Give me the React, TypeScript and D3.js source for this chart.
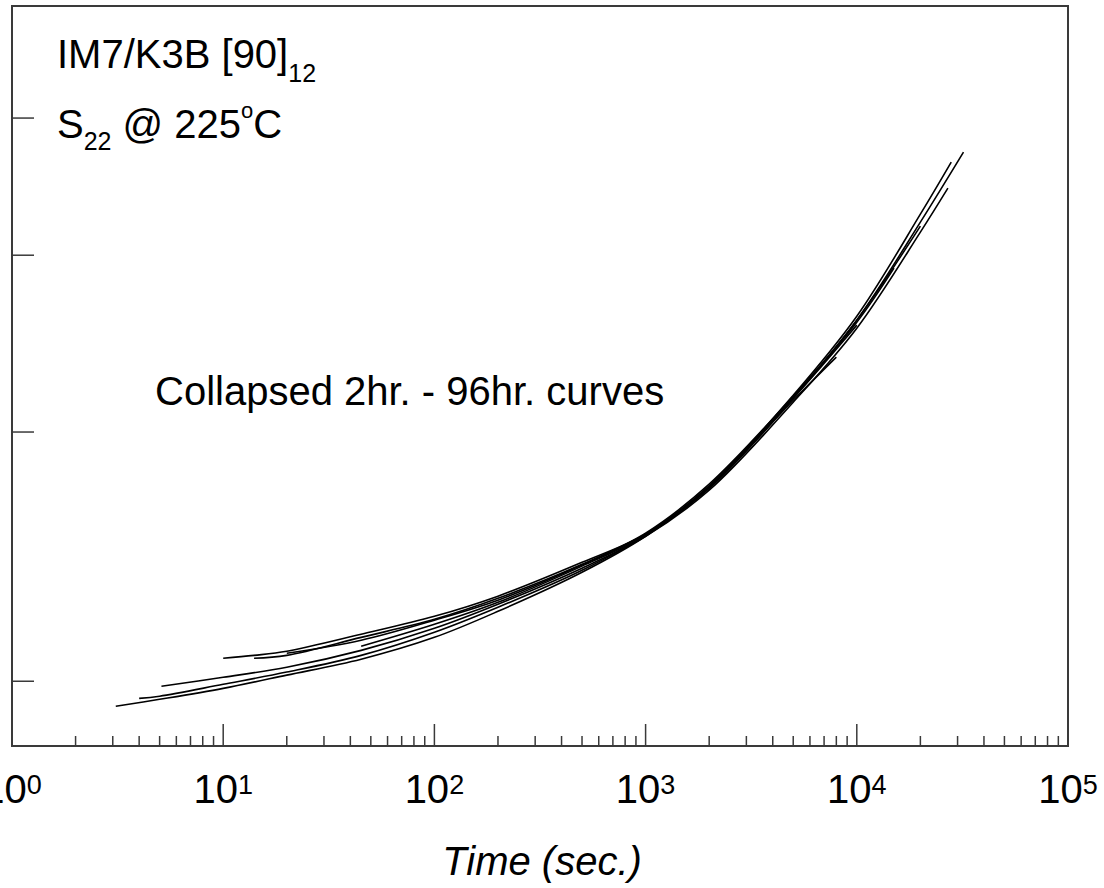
import React from "react";
import * as d3 from "d3";

// ---- Data ----
const curve1Time = [3.1, 5, 10, 20, 45, 100, 200, 500, 1000, 2000, 5000, 10000, 20000, 32000];
const curve1Value = [1.920, 1.942, 1.977, 2.020, 2.073, 2.148, 2.241, 2.388, 2.532, 2.738, 3.170, 3.599, 4.221, 4.730];

const curve2Time = [4, 5, 10, 20, 45, 100, 200, 500, 1000, 2000, 5000, 10000, 20000, 28000];
const curve2Value = [1.945, 1.952, 1.990, 2.030, 2.086, 2.166, 2.256, 2.396, 2.536, 2.747, 3.185, 3.622, 4.276, 4.654];

const curve3Time = [5.1, 10, 20, 45, 100, 200, 500, 1000, 2000, 5000, 10000, 20000, 27000];
const curve3Value = [1.984, 2.013, 2.046, 2.103, 2.180, 2.267, 2.404, 2.532, 2.729, 3.149, 3.552, 4.153, 4.461];

const curve4Time = [10, 14, 20, 45, 100, 200, 500, 1000, 2000, 5000, 8000];
const curve4Value = [2.076, 2.086, 2.100, 2.159, 2.223, 2.297, 2.427, 2.541, 2.738, 3.159, 3.389];

const curve5Time = [14, 20, 45, 100, 200, 500, 1000, 2000, 5000, 10000, 15000];
const curve5Value = [2.076, 2.086, 2.148, 2.212, 2.289, 2.419, 2.545, 2.756, 3.180, 3.587, 3.917];

const curve6Time = [20, 45, 100, 200, 500, 1000, 2000, 5000, 10000];
const curve6Value = [2.093, 2.138, 2.209, 2.282, 2.416, 2.541, 2.747, 3.170, 3.570];

const curve7Time = [45, 100, 200, 500, 1000, 2000, 5000, 10000, 20000];
const curve7Value = [2.117, 2.194, 2.274, 2.412, 2.536, 2.742, 3.175, 3.599, 4.194];

const xMajorExponents = [0, 1, 2, 3, 4, 5];
const yTickValues = [2, 3, 4, 5];

const xDomain: [number, number] = [1, 1e5];
const yDomain: [number, number] = [1.8, 6.0];

// ---- Layout ----
const W = 1104;
const H = 888;
const plot = { left: 12, right: 1068, top: 6, bottom: 746 };
const FONT = "'Liberation Sans', Arial, Helvetica, sans-serif";
const AXIS_COLOR = "#3a3a3a";

export default function App() {
  const x = d3.scaleLog().domain(xDomain).range([plot.left, plot.right]);
  const y = d3.scaleLog().domain(yDomain).range([plot.bottom, plot.top]);

  const series = [
    [curve1Time, curve1Value],
    [curve2Time, curve2Value],
    [curve3Time, curve3Value],
    [curve4Time, curve4Value],
    [curve5Time, curve5Value],
    [curve6Time, curve6Value],
    [curve7Time, curve7Value],
  ].map(([t, v]) => t.map((ti, i) => [ti, v[i]] as [number, number]));

  const line = d3
    .line<[number, number]>()
    .x((d) => x(d[0]))
    .y((d) => y(d[1]))
    .curve(d3.curveCatmullRom.alpha(0.5));

  const majorTicks: number[] = [];
  const minorTicks: number[] = [];
  for (let e = 0; e < 5; e++) {
    const base = Math.pow(10, e);
    if (e > 0) majorTicks.push(base);
    for (let m = 2; m <= 9; m++) minorTicks.push(m * base);
  }

  return (
    <div style={{ position: "absolute", left: 0, top: 0 }}>
      <svg width={W} height={H} style={{ display: "block", background: "#fff" }}>
        <g fill="none" stroke="#000" strokeWidth={1.6}>
          {series.map((s, i) => (
            <path key={i} d={line(s) || ""} />
          ))}
        </g>

        <rect
          x={plot.left}
          y={plot.top}
          width={plot.right - plot.left}
          height={plot.bottom - plot.top}
          fill="none"
          stroke={AXIS_COLOR}
          strokeWidth={2}
        />

        <g stroke={AXIS_COLOR} strokeWidth={1.5}>
          {majorTicks.map((t) => (
            <line key={"M" + t} x1={x(t)} x2={x(t)} y1={plot.bottom} y2={plot.bottom - 22} />
          ))}
          {minorTicks.map((t) => (
            <line key={"m" + t} x1={x(t)} x2={x(t)} y1={plot.bottom} y2={plot.bottom - 10} />
          ))}
          {yTickValues.map((v) => (
            <line key={"y" + v} x1={plot.left} x2={plot.left + 22} y1={y(v)} y2={y(v)} />
          ))}
        </g>

        <g fontFamily={FONT} fill="#000">
          {xMajorExponents.map((e) => (
            <text key={e} x={x(Math.pow(10, e))} y={803} fontSize={40} textAnchor="middle">
              10
              <tspan fontSize={27} dy={-9}>
                {String(e)}
              </tspan>
            </text>
          ))}
        </g>

        <text x={542} y={875} fontFamily={FONT} fontSize={40} fontStyle="italic" textAnchor="middle">
          Time (sec.)
        </text>

        <text x={57} y={68} fontFamily={FONT} fontSize={40}>
          IM7/K3B [90]
          <tspan fontSize={25} dy={14}>
            12
          </tspan>
        </text>
        <text x={57} y={138} fontFamily={FONT} fontSize={40}>
          S
          <tspan fontSize={25} dy={12}>
            22
          </tspan>
          <tspan dy={-12}>{" @ 225"}</tspan>
          <tspan fontSize={22} dy={-20}>
            o
          </tspan>
          <tspan dy={20}>C</tspan>
        </text>
        <text x={155} y={405} fontFamily={FONT} fontSize={40}>
          Collapsed 2hr. - 96hr. curves
        </text>
      </svg>
    </div>
  );
}
